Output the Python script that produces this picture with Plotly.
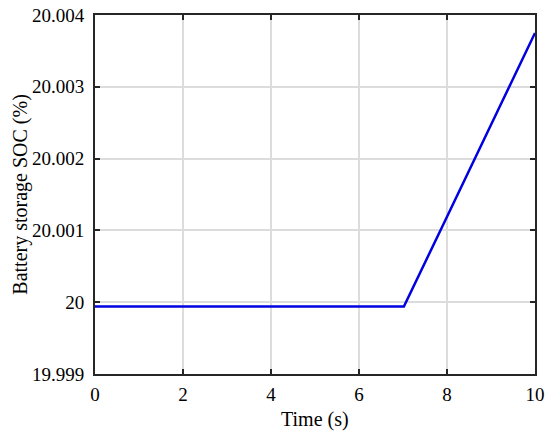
import plotly.graph_objects as go

time_s = [0, 1, 2, 3, 4, 5, 6, 7.02, 8, 9, 10]
soc_pct = [19.99994, 19.99994, 19.99994, 19.99994, 19.99994, 19.99994, 19.99994, 19.99994, 20.00119, 20.00246, 20.00375]
x_ticks = [0, 2, 4, 6, 8, 10]
y_ticks = [19.999, 20.0, 20.001, 20.002, 20.003, 20.004]
y_labels = ["19.999", "20", "20.001", "20.002", "20.003", "20.004"]
x_title = "Time (s)"
y_title = "Battery storage SOC (%)"

font = "Liberation Serif, Times New Roman, serif"
fig = go.Figure()
fig.add_trace(go.Scatter(x=time_s, y=soc_pct, mode="lines",
                         line=dict(color="#0000e0", width=2.5), showlegend=False))
axis_common = dict(showline=True, linecolor="#262626", linewidth=2, mirror="ticks",
                   ticks="inside", ticklen=5, tickwidth=1.5, tickcolor="#262626",
                   showgrid=True, gridcolor="#dcdcdc", gridwidth=1.5, zeroline=False,
                   automargin=False,
                   tickfont=dict(family=font, size=19, color="black"))
fig.update_xaxes(range=[0, 10], tickvals=x_ticks, ticktext=[str(v) for v in x_ticks],
                 ticklabelstandoff=2, **axis_common)
fig.update_yaxes(range=[19.999, 20.004], tickvals=y_ticks, ticktext=y_labels,
                 ticklabelstandoff=5, **axis_common)
title_font = dict(family=font, size=20, color="black")
fig.add_annotation(text=x_title, xref="paper", yref="paper", x=0.5, y=-0.128,
                   xanchor="center", yanchor="middle", showarrow=False, font=title_font)
fig.add_annotation(text=y_title, xref="paper", yref="paper", x=-0.17, y=0.5,
                   xanchor="center", yanchor="middle", textangle=-90, showarrow=False,
                   font=title_font)
fig.update_layout(width=550, height=438, margin=dict(l=95, r=15, t=15, b=64),
                  plot_bgcolor="white", paper_bgcolor="white")
fig.write_html("out.html", config={"displayModeBar": False},
               post_script="document.body.style.margin='0';document.body.style.overflow='hidden';")
